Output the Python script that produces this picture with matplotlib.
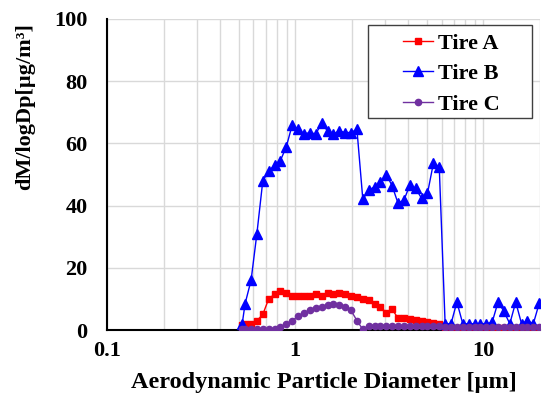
import matplotlib.pyplot as plt
from matplotlib.patches import Rectangle
from matplotlib.ticker import FixedLocator, LogLocator, NullFormatter

# APS bin midpoints (um)
diameter = [0.523, 0.542, 0.583, 0.626, 0.673, 0.723, 0.777, 0.835, 0.898, 0.965,
            1.037, 1.114, 1.197, 1.286, 1.382, 1.486, 1.596, 1.715, 1.843, 1.981,
            2.129, 2.288, 2.458, 2.642, 2.839, 3.051, 3.278, 3.523, 3.786, 4.068,
            4.371, 4.698, 5.048, 5.425, 5.829, 6.264, 6.732, 7.234, 7.774, 8.354,
            8.977, 9.647, 10.37, 11.14, 11.97, 12.86, 13.82, 14.86, 15.96, 17.15,
            18.43, 19.81]

tire_a = [1.5, 2.0, 2.0, 3.0, 5.0, 10.0, 11.5, 12.5, 12.0, 11.0,
          11.0, 11.0, 11.0, 11.5, 11.0, 12.0, 11.5, 12.0, 11.5, 11.0,
          10.5, 10.0, 9.5, 8.5, 7.5, 5.5, 6.6, 3.8, 3.8, 3.6,
          3.2, 3.0, 2.5, 2.2, 2.0, 0.5, 0.5, 0.5, 0.5, 0.5,
          0.5, 0.5, 0.5, 0.5, 0.5, 0.5, 0.5, 0.5, 0.5, 0.5,
          0.5, 0.5]

tire_b = [2.0, 8.5, 16.0, 31.0, 48.0, 51.0, 53.0, 54.5, 59.0, 66.0,
          64.5, 63.0, 63.5, 63.0, 66.5, 64.0, 63.0, 64.0, 63.5, 63.5,
          64.5, 42.0, 45.0, 46.0, 47.5, 50.0, 46.3, 40.7, 41.8, 46.6,
          45.5, 42.3, 43.9, 53.6, 52.5, 2.0, 2.0, 9.0, 2.0, 2.0,
          2.0, 2.0, 2.0, 2.5, 9.0, 6.0, 2.0, 9.0, 2.0, 3.0,
          2.0, 8.6]

tire_c = [0.3, 0.3, 0.3, 0.3, 0.3, 0.3, 0.3, 1.0, 2.0, 3.0,
          4.5, 5.5, 6.3, 7.0, 7.5, 8.0, 8.2, 8.0, 7.3, 6.3,
          3.0, 0.2, 1.2, 1.4, 1.2, 1.2, 1.2, 1.2, 1.2, 1.2,
          1.2, 1.2, 1.2, 1.2, 1.2, 1.0, 1.0, 1.0, 1.0, 1.0,
          1.0, 1.0, 1.0, 1.0, 1.0, 1.0, 1.0, 1.0, 1.0, 1.0,
          1.0, 1.0]

plt.rcParams['font.family'] = ['Liberation Serif', 'DejaVu Serif']
plt.rcParams['font.weight'] = 'bold'

fig = plt.figure(figsize=(5.42, 4.05), dpi=100)
ax = fig.add_axes([107 / 542, 75 / 405, 433 / 542, 311 / 405])

ax.plot(diameter, tire_a, color='#FF0000', marker='s', markersize=5, lw=1, label='Tire A', zorder=3)
ax.plot(diameter, tire_b, color='#0000FF', marker='^', markersize=6.5, lw=1, label='Tire B', zorder=4)
ax.plot(diameter, tire_c, color='#7030A0', marker='o', markersize=4.5, lw=1, label='Tire C', zorder=5)

ax.set_xscale('log')
ax.set_xlim(0.1, 20)
ax.set_ylim(0, 100)
ax.xaxis.set_major_locator(FixedLocator([0.1, 1, 10]))
ax.xaxis.set_major_formatter(plt.FuncFormatter(lambda v, p: '%g' % v))
ax.xaxis.set_minor_locator(LogLocator(base=10, subs=range(2, 10)))
ax.xaxis.set_minor_formatter(NullFormatter())
ax.set_yticks([0, 20, 40, 60, 80, 100])

ax.grid(True, which='both', axis='x', color='#d9d9d9', lw=1)
ax.grid(True, which='major', axis='y', color='#d9d9d9', lw=1)
ax.set_axisbelow(True)

for side in ['top', 'right']:
    ax.spines[side].set_visible(False)
ax.spines['left'].set_linewidth(1.5)
ax.spines['bottom'].set_linewidth(1.5)
ax.tick_params(which='both', length=0, labelsize=16)
ax.tick_params(axis='x', pad=8)
ax.tick_params(axis='y', pad=14)

ax.set_xlabel('Aerodynamic Particle Diameter [µm]', fontsize=17.5, fontweight='bold', labelpad=8)
ax.set_ylabel('dM/logDp[µg/m³]', fontsize=16, fontweight='bold')
ax.yaxis.set_label_coords(-0.165, 0.72)

# legend box drawn separately so it can carry wide side margins
ax.add_patch(Rectangle((0.603, 0.682), 0.379, 0.299, transform=ax.transAxes,
                       facecolor='white', edgecolor='#404040', lw=1, zorder=6))
leg = ax.legend(loc='upper left', bbox_to_anchor=(0.684, 0.955), borderaxespad=0,
                frameon=False, prop={'size': 16, 'weight': 'bold'},
                handlelength=1.35, handletextpad=0.2, labelspacing=0.45,
                borderpad=0)
leg.set_zorder(7)

fig.savefig('out.png', dpi=100)
